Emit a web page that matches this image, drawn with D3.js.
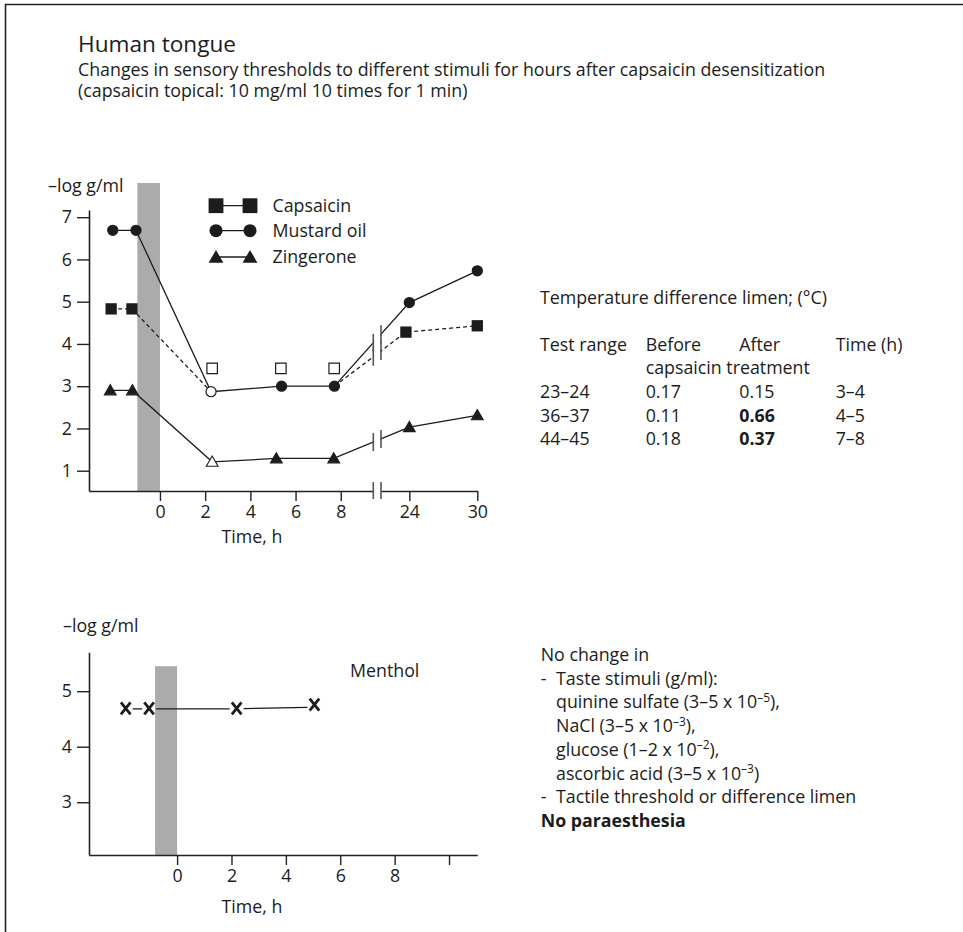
<!DOCTYPE html>
<html><head><meta charset="utf-8">
<script src="https://cdn.jsdelivr.net/npm/d3@7"></script>
<style>
body{margin:0;background:#fff;}
svg{display:block;font-family:"Open Sans",sans-serif;}
</style></head>
<body><svg id="c" width="963" height="932"></svg>
<script>
// ---------- DATA ----------
const titleLines = ["Human tongue",
  "Changes in sensory thresholds to different stimuli for hours after capsaicin desensitization",
  "(capsaicin topical: 10 mg/ml 10 times for 1 min)"];
const seriesNames = ["Capsaicin", "Mustard oil", "Zingerone"];
const topYTicks = [1, 2, 3, 4, 5, 6, 7];
const topXTicksLeft = [0, 2, 4, 6, 8];
const topXTicksRight = [24, 30];
const treatmentTop = [-1, 0];           // shaded application period (h)
const treatmentTopHeight = 7.81;
// Mustard oil
const mustardT = [-2.09, -1.06, 2.26, 5.38, 7.72, 24, 30];
const mustardV = [6.69, 6.69, 2.87, 3.0, 3.0, 4.98, 5.73];
const mustardOpen = [false, false, true, false, false, false, false];
// Capsaicin (filled squares, dashed line)
const capsT = [-2.16, -1.24, 23.7, 30];
const capsV = [4.83, 4.83, 4.28, 4.43];
const capsOpenT = [2.31, 5.35, 7.71];
const capsOpenV = [3.42, 3.42, 3.42];
const capsLine1T = [-2.16, -1.24, 2.26];
const capsLine1V = [4.83, 4.83, 2.87];
const capsLine2T = [7.72, 23.7, 30];
const capsLine2V = [3.0, 4.28, 4.43];
// Zingerone
const zingT = [-2.2, -1.22, 2.31, 5.15, 7.69, 24, 30];
const zingV = [2.9, 2.9, 1.21, 1.29, 1.29, 2.03, 2.31];
const zingOpen = [false, false, true, false, false, false, false];
// Menthol
const mentholT = [-1.89, -1.03, 2.19, 5.05];
const mentholV = [4.69, 4.69, 4.69, 4.76];
const botYTicks = [3, 4, 5];
const botXTicks = [0, 2, 4, 6, 8, 10];
const treatmentBot = [-0.81, 0];
const treatmentBotHeight = 5.45;
// Table
const tableTitle = "Temperature difference limen; (°C)";
const tableHeader = ["Test range", "Before", "After", "Time (h)"];
const tableHeader2 = "capsaicin treatment";
const testRange = ["23–24", "36–37", "44–45"];
const beforeVals = ["0.17", "0.11", "0.18"];
const afterVals = ["0.15", "0.66", "0.37"];
const afterBold = [false, true, true];
const timeVals = ["3–4", "4–5", "7–8"];

// ---------- SETUP ----------
const svg = d3.select("#c");
const ink = "#1c1c1c";
const FS = 17.8;

svg.append("path").attr("d", "M5.5,932 V4.5 H963").attr("fill", "none")
  .attr("stroke", "#222").attr("stroke-width", 1.6);

svg.append("text").attr("x", 78).attr("y", 52).attr("font-size", 22.6).attr("fill", ink).text(titleLines[0]);
svg.append("text").attr("x", 78).attr("y", 76).attr("font-size", 17.8).attr("fill", ink).text(titleLines[1]);
svg.append("text").attr("x", 78).attr("y", 97).attr("font-size", 17.8).attr("fill", ink).text(titleLines[2]);

// ---------- TOP CHART ----------
const tp = {left: 89, bL: 373.3, bR: 381, right: 477.3, top: 210, bottom: 491};
const xL = d3.scaleLinear().domain([-3.14, 9.44]).range([tp.left, tp.bL]);
const xR = d3.scaleLinear().domain([21.5, 30]).range([tp.bR, tp.right]);
const xT = t => t < 15 ? xL(t) : xR(t);
const yT = d3.scaleLinear().domain([0.52, 7.17]).range([tp.bottom, tp.top]);

const g1 = svg.append("g");
g1.append("rect").attr("x", xL(treatmentTop[0])).attr("width", xL(treatmentTop[1]) - xL(treatmentTop[0]))
  .attr("y", yT(treatmentTopHeight)).attr("height", yT(0.52) - yT(treatmentTopHeight)).attr("fill", "#ababab");

function styleAxis(a) {
  a.selectAll("path.domain").attr("stroke", "#222").attr("stroke-width", 1.6);
  a.selectAll(".tick line").attr("stroke", "#222").attr("stroke-width", 1.4);
  a.selectAll(".tick text").attr("font-size", FS).attr("fill", ink).attr("font-family", "Open Sans");
}
const fmt = d3.format("d");
const ay = g1.append("g").attr("transform", `translate(${tp.left},0)`)
  .call(d3.axisLeft(yT).tickValues(topYTicks).tickFormat(fmt).tickSize(12).tickSizeOuter(0).tickPadding(5));
styleAxis(ay);
const axL = g1.append("g").attr("transform", `translate(0,${tp.bottom})`)
  .call(d3.axisBottom(xL).tickValues(topXTicksLeft).tickFormat(fmt).tickSize(10).tickSizeOuter(0).tickPadding(4));
styleAxis(axL);
const axR = g1.append("g").attr("transform", `translate(0,${tp.bottom})`)
  .call(d3.axisBottom(xR).tickValues(topXTicksRight).tickFormat(fmt).tickSize(10).tickSizeOuter(0).tickPadding(4));
styleAxis(axR);

const line = d3.line().x(d => xT(d[0])).y(d => yT(d[1]));
const zip = (a, b) => a.map((v, i) => [v, b[i]]);
g1.append("path").attr("d", line(zip(mustardT, mustardV))).attr("fill", "none").attr("stroke", ink).attr("stroke-width", 1.3);
g1.append("path").attr("d", line(zip(zingT, zingV))).attr("fill", "none").attr("stroke", ink).attr("stroke-width", 1.3);
[zip(capsLine1T, capsLine1V), zip(capsLine2T, capsLine2V)].forEach(p =>
  g1.append("path").attr("d", line(p)).attr("fill", "none").attr("stroke", ink).attr("stroke-width", 1.3)
    .attr("stroke-dasharray", "4,3"));

g1.append("rect").attr("x", tp.bL + 0.8).attr("width", tp.bR - tp.bL - 1.6)
  .attr("y", tp.top).attr("height", tp.bottom - tp.top - 1).attr("fill", "#fff");
function crossY(t1, v1, t2, v2, px) {
  const x1 = xT(t1), y1 = yT(v1), x2 = xT(t2), y2 = yT(v2);
  return y1 + (y2 - y1) * (px - x1) / (x2 - x1);
}
const breakSegs = [
  [mustardT[4], mustardV[4], mustardT[5], mustardV[5]],
  [capsLine2T[0], capsLine2V[0], capsLine2T[1], capsLine2V[1]],
  [zingT[4], zingV[4], zingT[5], zingV[5]]
];
breakSegs.forEach(s => {
  [tp.bL, tp.bR].forEach(px => {
    const cy = crossY(s[0], s[1], s[2], s[3], px);
    g1.append("line").attr("x1", px).attr("x2", px).attr("y1", cy - 9).attr("y2", cy + 9)
      .attr("stroke", "#555").attr("stroke-width", 1.6);
  });
});
[tp.bL, tp.bR].forEach(px => g1.append("line").attr("x1", px).attr("x2", px)
  .attr("y1", tp.bottom - 9).attr("y2", tp.bottom + 8).attr("stroke", "#555").attr("stroke-width", 1.6));

const sq = d3.symbol().type(d3.symbolSquare);
const ci = d3.symbol().type(d3.symbolCircle);
const tri = d3.symbol().type(d3.symbolTriangle);
mustardT.forEach((t, i) => g1.append("path").attr("d", ci.size(80)())
  .attr("transform", `translate(${xT(t)},${yT(mustardV[i])})`)
  .attr("fill", mustardOpen[i] ? "#fff" : ink).attr("stroke", ink).attr("stroke-width", 1.2));
capsT.forEach((t, i) => g1.append("path").attr("d", sq.size(128)())
  .attr("transform", `translate(${xT(t)},${yT(capsV[i])})`).attr("fill", ink));
capsOpenT.forEach((t, i) => g1.append("path").attr("d", sq.size(110)())
  .attr("transform", `translate(${xT(t)},${yT(capsOpenV[i])})`)
  .attr("fill", "#fff").attr("stroke", ink).attr("stroke-width", 1.2));
zingT.forEach((t, i) => g1.append("path").attr("d", tri.size(60)())
  .attr("transform", `translate(${xT(t)},${yT(zingV[i]) + 1})`)
  .attr("fill", zingOpen[i] ? "#fff" : ink).attr("stroke", ink).attr("stroke-width", 1.1));

g1.append("text").attr("x", 48).attr("y", 192).attr("font-size", FS).attr("fill", ink).text("–log g/ml");
g1.append("text").attr("x", 252).attr("y", 543).attr("text-anchor", "middle").attr("font-size", FS).attr("fill", ink).text("Time, h");

const legY = [205.7, 230.7, 257];
const legSyms = [sq.size(220), ci.size(135), tri.size(95)];
seriesNames.forEach((n, i) => {
  g1.append("line").attr("x1", 216).attr("x2", 250).attr("y1", legY[i]).attr("y2", legY[i]).attr("stroke", ink).attr("stroke-width", 1.3);
  [216, 250].forEach(x => g1.append("path").attr("d", legSyms[i]())
    .attr("transform", `translate(${x},${legY[i] + (i === 2 ? 1.5 : 0)})`).attr("fill", ink));
  g1.append("text").attr("x", 272.5).attr("y", legY[i] + 6).attr("font-size", FS).attr("fill", ink).text(n);
});

// ---------- TABLE ----------
const tcol = [540, 645.7, 739.3, 835.7];
svg.append("text").attr("x", tcol[0]).attr("y", 304).attr("font-size", FS).attr("fill", ink).text(tableTitle);
tableHeader.forEach((h, i) => svg.append("text").attr("x", tcol[i]).attr("y", 351).attr("font-size", FS).attr("fill", ink).text(h));
svg.append("text").attr("x", tcol[1]).attr("y", 374).attr("font-size", FS).attr("fill", ink).text(tableHeader2);
testRange.forEach((r, i) => {
  const yy = 398 + i * 23.7;
  svg.append("text").attr("x", tcol[0]).attr("y", yy).attr("font-size", FS).attr("fill", ink).text(r);
  svg.append("text").attr("x", tcol[1]).attr("y", yy).attr("font-size", FS).attr("fill", ink).text(beforeVals[i]);
  svg.append("text").attr("x", tcol[2]).attr("y", yy).attr("font-size", FS).attr("fill", ink)
    .attr("font-weight", afterBold[i] ? 700 : 400).text(afterVals[i]);
  svg.append("text").attr("x", tcol[3]).attr("y", yy).attr("font-size", FS).attr("fill", ink).text(timeVals[i]);
});

// ---------- BOTTOM CHART ----------
const bt = {left: 89, right: 477.3, top: 652.3, bottom: 855};
const xB = d3.scaleLinear().domain([-3.24, 11.04]).range([bt.left, bt.right]);
const yB = d3.scaleLinear().domain([2.05, 5.7]).range([bt.bottom, bt.top]);
const g2 = svg.append("g");
g2.append("rect").attr("x", xB(treatmentBot[0])).attr("width", xB(treatmentBot[1]) - xB(treatmentBot[0]))
  .attr("y", yB(treatmentBotHeight)).attr("height", yB(2.05) - yB(treatmentBotHeight)).attr("fill", "#ababab");
const by = g2.append("g").attr("transform", `translate(${bt.left},0)`)
  .call(d3.axisLeft(yB).tickValues(botYTicks).tickFormat(fmt).tickSize(12).tickSizeOuter(0).tickPadding(5));
styleAxis(by);
const bx = g2.append("g").attr("transform", `translate(0,${bt.bottom})`)
  .call(d3.axisBottom(xB).tickValues(botXTicks).tickSize(10).tickSizeOuter(0).tickPadding(4)
    .tickFormat(d => d === 10 ? "" : fmt(d)));
styleAxis(bx);
const gap = 7;
for (let i = 0; i < mentholT.length - 1; i++) {
  const x1 = xB(mentholT[i]), y1 = yB(mentholV[i]), x2 = xB(mentholT[i + 1]), y2 = yB(mentholV[i + 1]);
  const L = Math.hypot(x2 - x1, y2 - y1), ux = (x2 - x1) / L, uy = (y2 - y1) / L;
  g2.append("line").attr("x1", x1 + ux * gap).attr("y1", y1 + uy * gap + 0.5)
    .attr("x2", x2 - ux * gap).attr("y2", y2 - uy * gap + (i === mentholT.length - 2 ? 2.5 : 0.5))
    .attr("stroke", ink).attr("stroke-width", 1.3);
}
mentholT.forEach((t, i) => {
  const cx = xB(t), cy = yB(mentholV[i]);
  g2.append("path").attr("d", `M${cx - 4.8},${cy - 6}L${cx + 4.8},${cy + 6}M${cx + 4.8},${cy - 6}L${cx - 4.8},${cy + 6}`)
    .attr("stroke", ink).attr("stroke-width", 2.8).attr("fill", "none");
});
g2.append("text").attr("x", 63).attr("y", 632).attr("font-size", FS).attr("fill", ink).text("–log g/ml");
g2.append("text").attr("x", 252).attr("y", 913).attr("text-anchor", "middle").attr("font-size", FS).attr("fill", ink).text("Time, h");
g2.append("text").attr("x", 350).attr("y", 677).attr("font-size", FS).attr("fill", ink).text("Menthol");

// ---------- NO CHANGE NOTE ----------
const noteLines = [
  {x: 540.7, parts: [["No change in"]]},
  {x: 556, dash: true, parts: [["Taste stimuli (g/ml):"]]},
  {x: 556, parts: [["quinine sulfate (3–5 x 10"], ["–5", 1], ["),"]]},
  {x: 556, parts: [["NaCl (3–5 x 10"], ["–3", 1], ["),"]]},
  {x: 556, parts: [["glucose (1–2 x 10"], ["–2", 1], ["),"]]},
  {x: 556, parts: [["ascorbic acid (3–5 x 10"], ["–3", 1], [")"]]},
  {x: 556, dash: true, parts: [["Tactile threshold or difference limen"]]},
  {x: 540.7, parts: [["No paraesthesia"]], bold: true}
];
noteLines.forEach((l, i) => {
  const yy = 661 + i * 23.7;
  if (l.dash) svg.append("text").attr("x", 540.7).attr("y", yy).attr("font-size", FS).attr("fill", ink).text("-");
  const t = svg.append("text").attr("x", l.x).attr("y", yy).attr("font-size", FS).attr("fill", ink)
    .attr("font-weight", l.bold ? 700 : 400);
  l.parts.forEach(p => {
    const s = t.append("tspan").text(p[0]);
    if (p[1]) s.attr("font-size", 12).attr("dy", -6.5);
    else if (t.selectAll("tspan").size() > 1) s.attr("dy", 6.5);
  });
});
</script></body></html>
